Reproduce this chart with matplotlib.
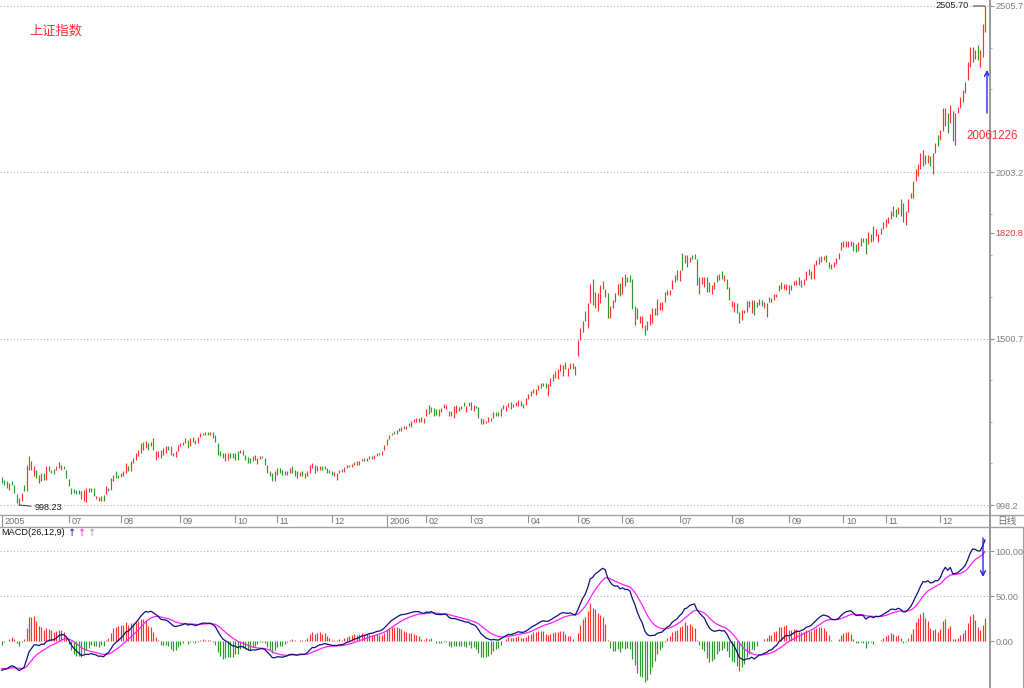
import numpy as np
import matplotlib
matplotlib.use("Agg")
import matplotlib.pyplot as plt
from matplotlib.lines import Line2D
import matplotlib.transforms as mtransforms

# ---------------- data (daily candles) ----------------
opens = [
    1083, 1075, 1070, 1045, 1070, 1060, 1030, 1020, 1010, 1060,
    1040, 1105, 1130, 1085, 1105, 1090, 1070, 1095, 1075, 1115,
    1105, 1107, 1105, 1110, 1105, 1117, 1105, 1077, 1050, 1047,
    1045, 1045, 1040, 1010, 1007, 1050, 1037, 1050, 1015, 1023,
    1010, 1027, 1030, 1050, 1045, 1070, 1100, 1090, 1083, 1085,
    1095, 1115, 1100, 1125, 1135, 1147, 1155, 1165, 1170, 1185,
    1175, 1200, 1135, 1143, 1165, 1150, 1155, 1177, 1175, 1155,
    1143, 1160, 1175, 1180, 1185, 1195, 1175, 1205, 1195, 1185,
    1205, 1210, 1220, 1220, 1210, 1220, 1210, 1185, 1160, 1155,
    1130, 1135, 1155, 1155, 1135, 1160, 1155, 1165, 1150, 1143,
    1140, 1130, 1150, 1123, 1137, 1147, 1140, 1120, 1100, 1095,
    1070, 1090, 1110, 1105, 1090, 1090, 1095, 1115, 1105, 1100,
    1085, 1100, 1095, 1085, 1095, 1110, 1120, 1100, 1105, 1115,
    1107, 1110, 1105, 1100, 1087, 1075,
    1095, 1108, 1098, 1110, 1120, 1112, 1120, 1130, 1120, 1130,
    1140, 1130, 1138, 1146, 1138, 1146, 1156, 1150, 1163, 1180,
    1197, 1209, 1222, 1212, 1222,
    1222, 1236, 1228, 1236, 1233, 1248, 1248, 1248, 1263, 1246,
    1266, 1300, 1278, 1290, 1288, 1268, 1278, 1290, 1288, 1283,
    1268, 1260, 1276, 1283, 1288, 1308, 1278, 1298, 1310, 1283,
    1298, 1293, 1260, 1243, 1246, 1248, 1253, 1260, 1278, 1278,
    1268, 1288, 1283, 1293, 1310, 1293, 1298, 1298, 1313, 1290,
    1300, 1318, 1328, 1338, 1330, 1346, 1353, 1358, 1366, 1328,
    1358, 1373, 1383, 1378, 1403, 1388, 1430, 1388, 1408, 1426,
    1390, 1448, 1498, 1520, 1583, 1533, 1608, 1680, 1593, 1583,
    1608, 1650, 1628, 1638, 1563, 1593, 1610, 1633, 1668, 1636,
    1696, 1673, 1693, 1680, 1543, 1593, 1548, 1533, 1543, 1528,
    1543, 1548, 1573, 1573,
    1587, 1587, 1612, 1632, 1632, 1652, 1694, 1707, 1674, 1760,
    1730, 1754, 1732, 1754, 1757, 1742, 1637, 1667, 1657, 1687,
    1672, 1637, 1652, 1672, 1677, 1704, 1674, 1682, 1657, 1597,
    1582, 1607, 1582, 1557, 1577, 1582, 1614, 1577, 1617, 1597,
    1602, 1617, 1592, 1567, 1612, 1624, 1617, 1627, 1644, 1672,
    1652, 1647, 1662, 1647, 1662, 1662, 1687, 1657, 1662, 1677,
    1712, 1682, 1682, 1722, 1727, 1732, 1737, 1752, 1714, 1727,
    1717, 1727, 1742, 1770, 1777, 1777, 1777, 1782, 1792, 1787,
    1767, 1782, 1804, 1804, 1787, 1794, 1842, 1812, 1794, 1817,
    1832, 1837, 1850, 1862, 1902, 1892, 1877, 1922, 1912, 1844,
    1882, 1927, 1927, 1977, 1992, 2012, 2022, 2057, 2032, 2054,
    1997, 2062, 2117, 2102, 2127, 2142, 2182, 2152, 2187, 2087,
    2182, 2197, 2217, 2242, 2282, 2322, 2337, 2372, 2387, 2322,
    2352, 2427,
]
closes = [
    1065, 1060, 1050, 1065, 1060, 1035, 1005, 998.23, 1035, 1040,
    1120, 1147, 1105, 1115, 1080, 1065, 1095, 1075, 1115, 1100,
    1095, 1093, 1115, 1127, 1120, 1107, 1080, 1055, 1030, 1033,
    1030, 1030, 1015, 1045, 1050, 1037, 1050, 1025, 1025, 1010,
    1025, 1010, 1055, 1040, 1080, 1090, 1080, 1080, 1095, 1100,
    1125, 1100, 1130, 1140, 1155, 1165, 1185, 1190, 1193, 1165,
    1190, 1165, 1160, 1160, 1140, 1170, 1175, 1165, 1150, 1145,
    1160, 1180, 1187, 1190, 1200, 1170, 1200, 1190, 1183, 1205,
    1215, 1217, 1210, 1210, 1220, 1200, 1190, 1150, 1145, 1140,
    1155, 1155, 1140, 1140, 1155, 1135, 1165, 1150, 1135, 1125,
    1125, 1145, 1135, 1140, 1145, 1140, 1120, 1095, 1085, 1070,
    1100, 1110, 1095, 1090, 1100, 1100, 1110, 1095, 1085, 1080,
    1097, 1085, 1080, 1100, 1120, 1125, 1095, 1115, 1117, 1105,
    1117, 1095, 1095, 1090, 1097, 1095,
    1105, 1098, 1112, 1118, 1112, 1122, 1128, 1120, 1132, 1138,
    1130, 1140, 1145, 1138, 1148, 1155, 1150, 1161, 1180, 1197,
    1209, 1215, 1212, 1225, 1230,
    1233, 1228, 1238, 1245, 1253, 1258, 1260, 1260, 1248, 1260,
    1288, 1273, 1293, 1268, 1270, 1288, 1290, 1303, 1300, 1268,
    1283, 1298, 1300, 1293, 1298, 1298, 1298, 1310, 1286, 1300,
    1290, 1260, 1243, 1258, 1253, 1263, 1260, 1278, 1268, 1268,
    1290, 1300, 1298, 1306, 1288, 1303, 1308, 1316, 1298, 1303,
    1320, 1333, 1343, 1348, 1348, 1360, 1368, 1366, 1353, 1363,
    1383, 1393, 1403, 1408, 1423, 1420, 1408, 1413, 1428, 1408,
    1418, 1498, 1533, 1553, 1553, 1608, 1666, 1603, 1643, 1640,
    1663, 1676, 1650, 1563, 1600, 1616, 1640, 1666, 1630, 1686,
    1660, 1686, 1673, 1590, 1598, 1560, 1568, 1568, 1513, 1553,
    1576, 1593, 1593, 1620,
    1610, 1612, 1642, 1647, 1647, 1677, 1672, 1677, 1707, 1707,
    1752, 1717, 1747, 1742, 1742, 1662, 1687, 1687, 1687, 1642,
    1642, 1662, 1672, 1694, 1697, 1682, 1694, 1652, 1617, 1614,
    1612, 1577, 1547, 1587, 1587, 1614, 1597, 1617, 1572, 1612,
    1622, 1600, 1612, 1607, 1627, 1610, 1637, 1637, 1662, 1652,
    1667, 1667, 1637, 1662, 1674, 1677, 1662, 1677, 1682, 1704,
    1692, 1704, 1727, 1737, 1747, 1750, 1750, 1732, 1732, 1710,
    1732, 1744, 1760, 1794, 1797, 1797, 1797, 1797, 1767, 1764,
    1792, 1804, 1792, 1757, 1824, 1817, 1797, 1832, 1817, 1834,
    1852, 1862, 1867, 1887, 1872, 1867, 1897, 1872, 1854, 1887,
    1922, 1942, 1977, 2012, 2027, 2062, 2072, 2027, 2057, 2022,
    2062, 2092, 2082, 2132, 2197, 2197, 2122, 2207, 2097, 2182,
    2202, 2232, 2252, 2277, 2337, 2382, 2382, 2347, 2342, 2372,
    2452, 2505.7,
]

# first trading day (bar index) of each month and its label
month_index = [0, 27, 48, 72, 94, 111, 133, 155, 171, 189,
               212, 232, 250, 273, 294, 317, 339, 356, 378]
month_labels = ["2005", "07", "08", "09", "10", "11", "12", "2006", "02", "03",
                "04", "05", "06", "07", "08", "09", "10", "11", "12"]

price_levels = [998.2, 1500.7, 2003.2, 2505.7]
price_labels = ["998.2", "1500.7", "2003.2", "2505.7"]
marker_price = 1820.8
marker_label = "1820.8"

macd_levels = [0, 50, 100]
macd_labels = ["0.00", "50.00", "100.00"]
macd_params = (26, 12, 9)
macd_start = (1078.0, 1112.0, -30.0)   # EMA12, EMA26, DEA before first bar

title = "上证指数"
cursor_date = "20061226"
period_label = "日线"

# ---------------- figure ----------------
W, H = 1024, 688
fig = plt.figure(figsize=(W / 100, H / 100), dpi=100)
fig.patch.set_facecolor("white")

def rect(x0, y0, x1, y1):
    return [x0 / W, 1 - y1 / H, (x1 - x0) / W, (y1 - y0) / H]

def fpx(x, y):
    return (x, H - y)

RED = "#ff3030"
GREEN = "#2a9a2a"
GRAY = "#808080"
NUMFONT = "Liberation Sans"

n = len(closes)
x = np.arange(n)
o = np.array(opens, dtype=float)
c = np.array(closes, dtype=float)
XL = (-0.685, 398.0)

# ---- main price panel
ax = fig.add_axes(rect(0, 0, 990, 515))
ax.set_xlim(*XL)
ax.set_ylim(968.0, 2523.8)
for s in ax.spines.values():
    s.set_visible(False)
ax.tick_params(axis="x", bottom=False, labelbottom=False)
for lv in price_levels:
    ax.axhline(lv, color="#b4b4b4", lw=0.8, ls=(0, (1, 2)), zorder=0)

up = c >= o
cols = np.where(up, RED, GREEN)
ax.vlines(x, np.minimum(o, c), np.maximum(o, c), colors=cols, linewidth=0.85)

ax.yaxis.tick_right()
ax.set_yticks(price_levels + [marker_price])
ax.set_yticklabels(price_labels + [marker_label])
minor = []
for a, b in zip(price_levels[:-1], price_levels[1:]):
    minor += list(np.linspace(a, b, 5)[1:-1])
ax.set_yticks(minor, minor=True)
ax.tick_params(axis="y", which="major", direction="out", length=3, width=0.8,
               color="#909090", labelsize=6.6, labelcolor=GRAY, pad=1)
ax.tick_params(axis="y", which="minor", direction="out", length=1.5, width=0.8,
               color="#b0b0b0")
for lab in ax.get_yticklabels():
    lab.set_fontfamily(NUMFONT)
    if lab.get_text() == marker_label:
        lab.set_color(RED)

imax = int(np.argmax(c))
imin = int(np.argmin(c))
ax.annotate(f"{c[imax]:.2f}", xy=(imax, c[imax]), xytext=(-16, 0),
            textcoords="offset pixels", ha="right", va="center",
            fontsize=6.6, family=NUMFONT, color="#202020",
            arrowprops=dict(arrowstyle="-", lw=0.7, color="#333333",
                            shrinkA=1, shrinkB=0))
ax.annotate(f"{c[imin]:.2f}", xy=(imin, c[imin]), xytext=(16, -3),
            textcoords="offset pixels", ha="left", va="center",
            fontsize=6.6, family=NUMFONT, color="#202020",
            arrowprops=dict(arrowstyle="-", lw=0.7, color="#333333",
                            shrinkA=1, shrinkB=0))

# ---- date strip
axd = fig.add_axes(rect(0, 515, 990, 527))
axd.set_xlim(*XL)
axd.set_ylim(0, 1)
axd.axis("off")
tr = mtransforms.blended_transform_factory(axd.transData, axd.transAxes)
tr_txt = mtransforms.offset_copy(tr, fig=fig, x=2.5, y=0, units="dots")
for idx, lab in zip(month_index, month_labels):
    top = 0.0 if len(lab) == 4 else 0.42
    axd.plot([idx, idx], [top, 1.0], transform=tr, color="#909090", lw=0.8)
    axd.text(idx, 0.5, lab, transform=tr_txt, ha="left", va="center",
             fontsize=6.6, family=NUMFONT, color="#707070")

# ---- MACD panel
slow, fast, sig = macd_params

def ema(values, span, start):
    a = 2.0 / (span + 1)
    out, e = [], start
    for v in values:
        e = e + a * (v - e)
        out.append(e)
    return np.array(out)

dif = ema(c, fast, macd_start[0]) - ema(c, slow, macd_start[1])
dea = ema(dif, sig, macd_start[2])
hist = 2 * (dif - dea)

axm = fig.add_axes(rect(0, 527, 990, 688))
axm.set_xlim(*XL)
axm.set_ylim(-52.2, 126.7)
for s in axm.spines.values():
    s.set_visible(False)
axm.tick_params(axis="x", bottom=False, labelbottom=False)
for lv in macd_levels[1:]:
    axm.axhline(lv, color="#b4b4b4", lw=0.8, ls=(0, (1, 2)), zorder=0)
axm.vlines(x, 0, hist, colors=np.where(hist >= 0, RED, GREEN), linewidth=0.85)
axm.plot(x, dea, color="#ff20ff", lw=0.9)
axm.plot(x, dif, color="#10107a", lw=0.9)
axm.yaxis.tick_right()
axm.set_yticks(macd_levels)
axm.set_yticklabels(macd_labels)
axm.tick_params(axis="y", direction="out", length=3, width=0.8,
                color="#909090", labelsize=6.6, labelcolor=GRAY, pad=1)
for lab in axm.get_yticklabels():
    lab.set_fontfamily(NUMFONT)

# ---- frame lines
def fline(x0, y0, x1, y1, color="#a0a0a0", lw=1.0):
    fig.add_artist(Line2D([x0 / W, x1 / W], [1 - y0 / H, 1 - y1 / H],
                          transform=fig.transFigure, color=color, lw=lw))

fline(0, 515, W, 515)
fline(0, 527, W, 527)
fline(990, 0, 990, H, color="#999999", lw=1.4)
fline(1023, 527, 1023, H, color="#a0a0a0", lw=0.8)

# ---- texts
fig.text(29 / W, 1 - 31 / H, title, color=RED, fontsize=9.5,
         family=["Noto Sans CJK SC"], ha="left", va="center")
fig.text(1007 / W, 1 - 521 / H, period_label, color="#707070", fontsize=7,
         family=["Noto Sans CJK SC"], ha="center", va="center")
fig.text(1 / W, 1 - 532.5 / H, "MACD(%d,%d,%d)" % macd_params, color="#101010",
         fontsize=6.6, family=NUMFONT, ha="left", va="center")
for xp, colr in [(72, "#202080"), (82, "#ff20ff"), (92, "#a0a0a0")]:
    fig.text(xp / W, 1 - 532.5 / H, "↑", color=colr, fontsize=7,
             family="DejaVu Sans", ha="center", va="center")
fig.text(966 / W, 1 - 136 / H, cursor_date, color=RED, fontsize=8.3,
         family=NUMFONT, ha="left", va="center")

arrow = dict(arrowstyle="->,head_length=0.35,head_width=0.18",
             color="#2525ee", lw=1.0, shrinkA=0, shrinkB=0)
ax.annotate("", xy=fpx(987, 70), xytext=fpx(987, 113),
            xycoords="figure pixels", textcoords="figure pixels",
            arrowprops=arrow, annotation_clip=False)
axm.annotate("", xy=fpx(983, 577), xytext=fpx(983, 538),
             xycoords="figure pixels", textcoords="figure pixels",
             arrowprops=arrow, annotation_clip=False)

fig.savefig("out.png", dpi=100)
